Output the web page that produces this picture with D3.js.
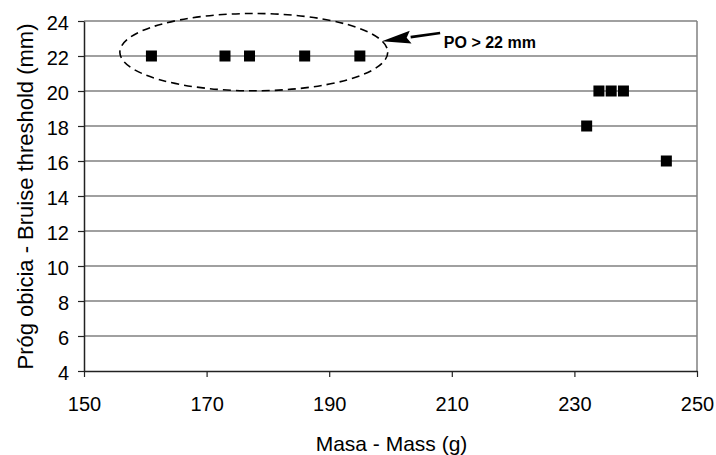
<!DOCTYPE html>
<html>
<head>
<meta charset="utf-8">
<script src="https://cdn.jsdelivr.net/npm/d3@7"></script>
<style>
  html, body { margin: 0; padding: 0; background: #fff; }
  svg { display: block; }
  text { font-family: "Liberation Sans", Arial, sans-serif; fill: #000; }
</style>
</head>
<body>
<svg id="chart" width="716" height="455"></svg>
<script>
// Fruit mass (g) and bruise threshold (mm)
const massValues = [161, 173, 177, 186, 195, 232, 234, 236, 238, 245];
const thresholdValues = [22, 22, 22, 22, 22, 18, 20, 20, 20, 16];
const xTicks = [150, 170, 190, 210, 230, 250];
const yTicks = [4, 6, 8, 10, 12, 14, 16, 18, 20, 22, 24];
const xTitle = "Masa - Mass (g)";
const yTitle = "Próg obicia - Bruise threshold (mm)";
const noteText = "PO > 22 mm";

const svg = d3.select("#chart");
const plot = { left: 84, right: 697, top: 21, bottom: 371 };

const x = d3.scaleLinear().domain([150, 250]).range([plot.left, plot.right]);
const y = d3.scaleLinear().domain([4, 24]).range([plot.bottom, plot.top]);

// horizontal gridlines
svg.append("g")
  .selectAll("line")
  .data(yTicks.filter(d => d !== 4))
  .join("line")
  .attr("x1", plot.left).attr("x2", plot.right)
  .attr("y1", d => y(d)).attr("y2", d => y(d))
  .attr("stroke", "#808080").attr("stroke-width", 1.5);

// right frame edge
svg.append("line")
  .attr("x1", plot.right).attr("x2", plot.right)
  .attr("y1", plot.top).attr("y2", plot.bottom)
  .attr("stroke", "#808080").attr("stroke-width", 1.5);

// axes
const xAxis = d3.axisBottom(x).tickValues(xTicks).tickSize(6).tickPadding(20).tickSizeOuter(0);
const yAxis = d3.axisLeft(y).tickValues(yTicks).tickSize(6).tickPadding(9).tickSizeOuter(0);

const gx = svg.append("g").attr("transform", `translate(0,${plot.bottom})`).call(xAxis);
const gy = svg.append("g").attr("transform", `translate(${plot.left},0)`).call(yAxis);

[gx, gy].forEach(g => {
  g.select(".domain").attr("stroke", "#222").attr("stroke-width", 1.5);
  g.selectAll(".tick line").attr("stroke", "#222").attr("stroke-width", 1.2);
  g.selectAll(".tick text")
    .style("font-family", '"Liberation Sans", Arial, sans-serif')
    .style("font-size", "20px")
    .attr("fill", "#000");
});
gy.selectAll(".tick text").attr("dy", "0.42em");
gx.selectAll(".tick text").attr("dy", "0.71em");

// axis titles
svg.append("text")
  .attr("x", (plot.left + plot.right) / 2 + 1)
  .attr("y", 451)
  .attr("text-anchor", "middle")
  .style("font-size", "21px")
  .text(xTitle);

svg.append("text")
  .attr("transform", `translate(33,${(plot.top + plot.bottom) / 2 + 0.5}) rotate(-90)`)
  .attr("text-anchor", "middle")
  .style("font-size", "22px")
  .text(yTitle);

// data points: black squares
const pts = massValues.map((m, i) => ({ m, t: thresholdValues[i] }));
const s = 11;
svg.append("g")
  .selectAll("rect")
  .data(pts)
  .join("rect")
  .attr("x", d => x(d.m) - s / 2)
  .attr("y", d => y(d.t) - s / 2)
  .attr("width", s).attr("height", s)
  .attr("fill", "#000");

// dashed ellipse around the points whose threshold exceeds the scale
const ell = { cx: 177.7, cy: 22.22, rx: 21.85, ry: 2.21 };
svg.append("ellipse")
  .attr("cx", x(ell.cx))
  .attr("cy", y(ell.cy))
  .attr("rx", x(ell.cx + ell.rx) - x(ell.cx))
  .attr("ry", y(ell.cy) - y(ell.cy + ell.ry))
  .attr("fill", "none")
  .attr("stroke", "#000")
  .attr("stroke-width", 1.6)
  .attr("stroke-dasharray", "8,5");

// arrow pointing at the ellipse
const tail = [x(208.1), y(23.31)];
const tip = [x(198.6), y(22.85)];
const dx = tip[0] - tail[0], dy = tip[1] - tail[1];
const len = Math.hypot(dx, dy);
const ux = dx / len, uy = dy / len;
const headLen = 29, headHalf = 6.5;
const base = [tip[0] - ux * headLen, tip[1] - uy * headLen];
svg.append("line")
  .attr("x1", tail[0]).attr("y1", tail[1])
  .attr("x2", base[0]).attr("y2", base[1])
  .attr("stroke", "#000").attr("stroke-width", 2.6);
svg.append("path")
  .attr("d", d3.line()([
    tip,
    [base[0] - uy * headHalf, base[1] + ux * headHalf],
    [base[0] + ux * 4, base[1] + uy * 4],
    [base[0] + uy * headHalf, base[1] - ux * headHalf]
  ]) + "Z")
  .attr("fill", "#000");

svg.append("text")
  .attr("x", x(208.7))
  .attr("y", y(22.47))
  .style("font-size", "16px")
  .style("font-weight", "bold")
  .text(noteText);
</script>
</body>
</html>
